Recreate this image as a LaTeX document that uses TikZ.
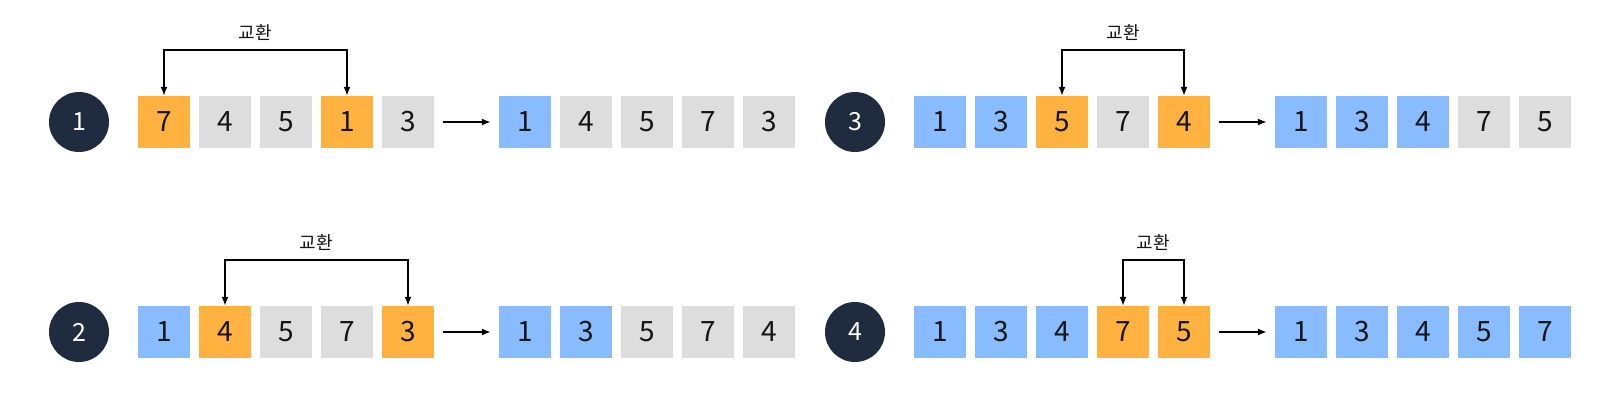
\documentclass[tikz,border=0pt]{standalone}
\usepackage{fontspec}
\setmainfont{Noto Sans CJK KR}
\usetikzlibrary{arrows.meta}
\definecolor{org}{HTML}{FFB23F}
\definecolor{blu}{HTML}{88BBFF}
\definecolor{gry}{HTML}{DDDDDD}
\definecolor{nav}{HTML}{1F2B3E}
\definecolor{txt}{HTML}{151515}
\tikzset{
  cell/.style={minimum width=52pt, minimum height=52pt, inner sep=0pt, text=txt, font=\fontsize{28}{28}\selectfont},
  og/.style={cell, fill=org},
  bl/.style={cell, fill=blu},
  gr/.style={cell, fill=gry},
  badge/.style={circle, fill=nav, minimum size=60pt, inner sep=0pt, text=white, font=\fontsize{25}{25}\selectfont},
  lab/.style={font=\fontsize{18}{18}\selectfont, text=txt, inner sep=0pt},
  conn/.style={line width=1.5pt, draw=black, -{Latex[length=9pt,width=7pt]}},
  swap/.style={line width=1.5pt, draw=black, {Latex[length=9pt,width=7pt]}-{Latex[length=9pt,width=7pt]}}
}
\begin{document}
\begin{tikzpicture}[x=1pt,y=-1pt]
\useasboundingbox (0,0) rectangle (1620,415);
% ---- Step 1 ----
\node[badge] (c1) at (79,122) {1};
\node[og] (a1) at (164,122) {7};
\node[gr] (a2) at (225,122) {4};
\node[gr] (a3) at (286,122) {5};
\node[og] (a4) at (347,122) {1};
\node[gr] (a5) at (408,122) {3};
\node[bl] (r1) at (525,122) {1};
\node[gr] (r2) at (586,122) {4};
\node[gr] (r3) at (647,122) {5};
\node[gr] (r4) at (708,122) {7};
\node[gr] (r5) at (769,122) {3};
\draw[conn, shorten <=9pt, shorten >=8pt] (a5.east) -- (r1.west);
\coordinate (t1) at (164,50);
\coordinate (t2) at (347,50);
\draw[swap] (a1.north) -- (t1) -- (t2) -- (a4.north);
\node[lab] (l1) at (255.5,33) {교환};
% ---- Step 2 ----
\node[badge] (c2) at (79,332) {2};
\node[bl] (b1) at (164,332) {1};
\node[og] (b2) at (225,332) {4};
\node[gr] (b3) at (286,332) {5};
\node[gr] (b4) at (347,332) {7};
\node[og] (b5) at (408,332) {3};
\node[bl] (s1) at (525,332) {1};
\node[bl] (s2) at (586,332) {3};
\node[gr] (s3) at (647,332) {5};
\node[gr] (s4) at (708,332) {7};
\node[gr] (s5) at (769,332) {4};
\draw[conn, shorten <=9pt, shorten >=8pt] (b5.east) -- (s1.west);
\coordinate (u1) at (225,260);
\coordinate (u2) at (408,260);
\draw[swap] (b2.north) -- (u1) -- (u2) -- (b5.north);
\node[lab] (l2) at (316.5,243) {교환};
% ---- Step 3 ----
\node[badge] (c3) at (855,122) {3};
\node[bl] (d1) at (940,122) {1};
\node[bl] (d2) at (1001,122) {3};
\node[og] (d3) at (1062,122) {5};
\node[gr] (d4) at (1123,122) {7};
\node[og] (d5) at (1184,122) {4};
\node[bl] (e1) at (1301,122) {1};
\node[bl] (e2) at (1362,122) {3};
\node[bl] (e3) at (1423,122) {4};
\node[gr] (e4) at (1484,122) {7};
\node[gr] (e5) at (1545,122) {5};
\draw[conn, shorten <=9pt, shorten >=8pt] (d5.east) -- (e1.west);
\coordinate (v1) at (1062,50);
\coordinate (v2) at (1184,50);
\draw[swap] (d3.north) -- (v1) -- (v2) -- (d5.north);
\node[lab] (l3) at (1123,33) {교환};
% ---- Step 4 ----
\node[badge] (c4) at (855,332) {4};
\node[bl] (f1) at (940,332) {1};
\node[bl] (f2) at (1001,332) {3};
\node[bl] (f3) at (1062,332) {4};
\node[og] (f4) at (1123,332) {7};
\node[og] (f5) at (1184,332) {5};
\node[bl] (g1) at (1301,332) {1};
\node[bl] (g2) at (1362,332) {3};
\node[bl] (g3) at (1423,332) {4};
\node[bl] (g4) at (1484,332) {5};
\node[bl] (g5) at (1545,332) {7};
\draw[conn, shorten <=9pt, shorten >=8pt] (f5.east) -- (g1.west);
\coordinate (w1) at (1123,260);
\coordinate (w2) at (1184,260);
\draw[swap] (f4.north) -- (w1) -- (w2) -- (f5.north);
\node[lab] (l4) at (1153.5,243) {교환};
\end{tikzpicture}
\end{document}
